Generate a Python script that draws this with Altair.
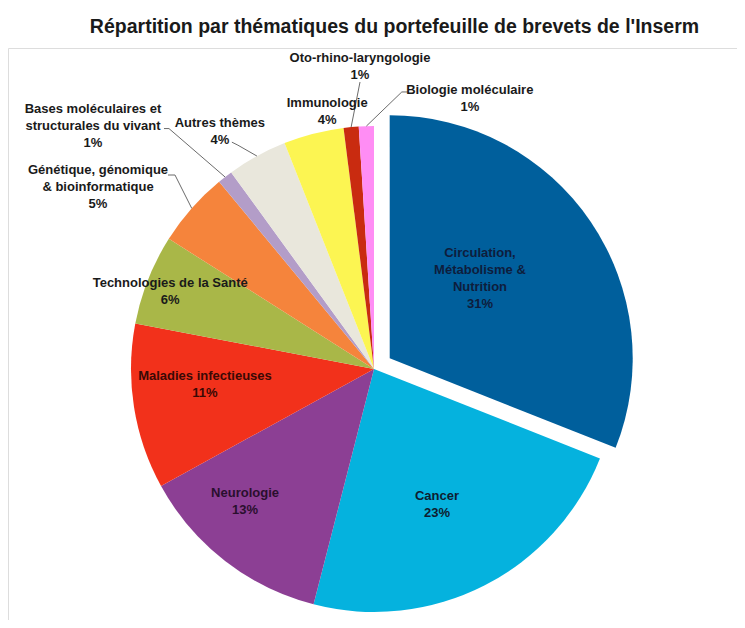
import altair as alt
import pandas as pd

# ---- data ----
categories = [
    "Circulation, Métabolisme & Nutrition",
    "Cancer",
    "Neurologie",
    "Maladies infectieuses",
    "Technologies de la Santé",
    "Génétique, génomique & bioinformatique",
    "Bases moléculaires et structurales du vivant",
    "Autres thèmes",
    "Immunologie",
    "Oto-rhino-laryngologie",
    "Biologie moléculaire",
]
values = [31, 23, 13, 11, 6, 5, 1, 4, 4, 1, 1]
label_names = [
    "Circulation,\nMétabolisme &\nNutrition",
    "Cancer",
    "Neurologie",
    "Maladies infectieuses",
    "Technologies de la Santé",
    "Génétique, génomique\n& bioinformatique",
    "Bases moléculaires et\nstructurales du vivant",
    "Autres thèmes",
    "Immunologie",
    "Oto-rhino-laryngologie",
    "Biologie moléculaire",
]

# ---- styles / label layout ----
colors = ["#005F9C", "#05B2DE", "#8C3F94", "#F2311B", "#A9B748", "#F5843C",
          "#B39DC8", "#E9E7DC", "#FCF552", "#C92B10", "#FF8DF4"]
text_colors = ["#0E1D3C", "#0E1D30", "#2A0F2E", "#3A0905", "#1A1A1A", "#1A1A1A",
               "#1A1A1A", "#1A1A1A", "#1A1A1A", "#1A1A1A", "#1A1A1A"]
explode = [1, 0, 0, 0, 0, 0, 0, 0, 0, 0, 0]
label_r = [120.5, 149, 184.6, 169.8, 218, 330.6, 371.8, 283, 261.8, 302.8, 287]
label_dang = [-7.3, 2.0, 6.5, 3.6, -0.8, -8.0, -11.3, -4.2, 4.1, 2.75, 21.3]
lead_sdx = [None, None, None, None, None, 70, 71, 12, None, 0, -62]
lead_sdy = [None, None, None, None, None, -12, 3, 10.5, None, 15.5, -6.5]
lead_kdx = [None, None, None, None, None, 77, 76, 18, None, 0, -68]
lead_kdy = [None, None, None, None, None, -12, 3, 13.5, None, 15.5, -6.5]

CX, CY, R, D = 366, 321, 243, 19
LH = 17

texts = [f"{n}\n{v}%" for n, v in zip(label_names, values)]
df = pd.DataFrame({
    "category": categories,
    "value": values,
    "order": list(range(len(categories))),
    "text": texts,
    "nl": [t.count("\n") + 1 for t in texts],
    "tcolor": text_colors,
    "explode": explode,
    "lr": label_r,
    "dang": label_dang,
    "sdx": lead_sdx, "sdy": lead_sdy, "kdx": lead_kdx, "kdy": lead_kdy,
})

base = (
    alt.Chart(df)
    .transform_joinaggregate(total="sum(value)")
    .transform_window(cum="sum(value)", sort=[alt.SortField("order")], frame=[None, 0])
    .transform_calculate(t0="2*PI*(datum.cum - datum.value)/datum.total")
    .transform_calculate(t1="2*PI*datum.cum/datum.total")
    .transform_calculate(mid="(datum.t0 + datum.t1)/2")
    .transform_calculate(ocx=f"{CX} + datum.explode*{D}*sin(datum.mid)")
    .transform_calculate(ocy=f"{CY} - datum.explode*{D}*cos(datum.mid)")
    .transform_calculate(la="datum.mid + datum.dang*PI/180")
    .transform_calculate(lx="datum.ocx + datum.lr*sin(datum.la)")
    .transform_calculate(ly="datum.ocy - datum.lr*cos(datum.la)")
    .transform_calculate(ex=f"{CX} + {R}*sin(datum.mid)")
    .transform_calculate(ey=f"{CY} - {R}*cos(datum.mid)")
)

arcs = base.mark_arc(outerRadius=R).encode(
    theta=alt.Theta("t0:Q", scale=None),
    theta2="t1:Q",
    x=alt.X("ocx:Q", scale=None, axis=None),
    y=alt.Y("ocy:Q", scale=None, axis=None),
    color=alt.Color("category:N", scale=alt.Scale(domain=categories, range=colors), legend=None),
    order=alt.Order("order:Q"),
)

leaders = base.transform_filter("datum.sdx != null").transform_calculate(
    sx="datum.lx + datum.sdx"
).transform_calculate(
    sy="datum.ly + datum.sdy"
).transform_calculate(
    kx="datum.lx + datum.kdx"
).transform_calculate(
    ky="datum.ly + datum.kdy"
)

lead1 = leaders.mark_rule(color="#6b6b6b", strokeWidth=1).encode(
    x=alt.X("sx:Q", scale=None, axis=None),
    y=alt.Y("sy:Q", scale=None, axis=None),
    x2="kx:Q", y2="ky:Q",
)
lead2 = leaders.mark_rule(color="#6b6b6b", strokeWidth=1).encode(
    x=alt.X("kx:Q", scale=None, axis=None),
    y=alt.Y("ky:Q", scale=None, axis=None),
    x2="ex:Q", y2="ey:Q",
)

labels = base.transform_calculate(
    ty=f"datum.ly - (datum.nl - 1)*{LH}/2"
).mark_text(
    lineBreak="\n", align="center", baseline="middle",
    font="Liberation Sans", fontSize=13, fontWeight="bold", lineHeight=LH,
).encode(
    x=alt.X("lx:Q", scale=None, axis=None),
    y=alt.Y("ty:Q", scale=None, axis=None),
    text="text:N",
    color=alt.Color("tcolor:N", scale=None),
)

chart = (
    alt.layer(arcs, lead1, lead2, labels)
    .properties(
        width=729, height=572,
        autosize=alt.AutoSizeParams(type="none"),
        padding={"left": 0, "right": 0, "top": 40, "bottom": 0},
        title=alt.TitleParams(
            "Répartition par thématiques du portefeuille de brevets de l'Inserm",
            font="Liberation Sans", fontSize=19.5, fontWeight="bold",
            anchor="middle", offset=11, dx=22, frame="group", color="#1a1a1a",
        ),
    )
    .configure_view(stroke=None)
    .configure(background="white")
)

chart.save("out.html", embed_options={"renderer": "svg", "actions": False})
